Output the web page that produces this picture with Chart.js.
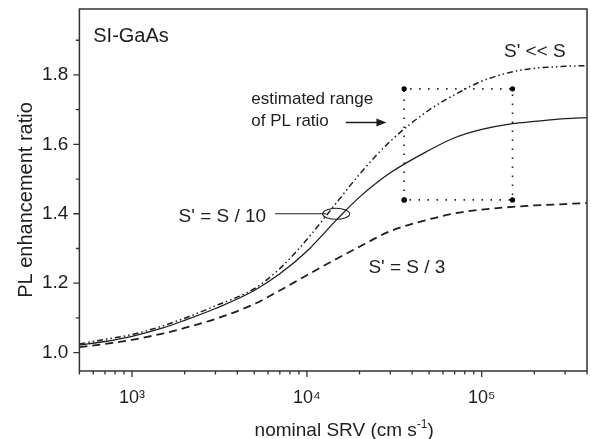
<!DOCTYPE html>
<html>
<head>
<meta charset="utf-8">
<script src="https://cdn.jsdelivr.net/npm/chart.js@4/dist/chart.umd.min.js"></script>
<style>
  html, body { margin: 0; padding: 0; background: #fff; }
</style>
</head>
<body>
<canvas id="chart" width="591" height="439"></canvas>
<script>
// nominal SRV (cm/s) sample points and PL enhancement ratio
const srv = [500, 700, 1000, 1500, 2000, 3000, 5000, 7000, 1e4, 1.5e4, 2e4, 3e4, 5e4, 7e4, 1e5, 1.5e5, 2e5, 3e5, 4e5];
const ratioMuchLess = [1.025, 1.038, 1.052, 1.077, 1.099, 1.135, 1.184, 1.242, 1.326, 1.436, 1.514, 1.609, 1.699, 1.743, 1.782, 1.809, 1.819, 1.825, 1.827];
const ratioTenth    = [1.022, 1.032, 1.047, 1.071, 1.093, 1.127, 1.179, 1.227, 1.292, 1.386, 1.448, 1.518, 1.583, 1.619, 1.643, 1.660, 1.666, 1.674, 1.677];
const ratioThird    = [1.016, 1.025, 1.037, 1.055, 1.071, 1.097, 1.140, 1.179, 1.223, 1.272, 1.305, 1.350, 1.384, 1.401, 1.412, 1.420, 1.424, 1.428, 1.431];

// estimated range box (SRV and ratio limits)
const rangeSrv = [3.6e4, 1.5e5];
const rangeRatio = [1.44, 1.76];

const yTicks = [1.0, 1.2, 1.4, 1.6, 1.8];
const yMinor = [1.1, 1.3, 1.5, 1.7, 1.9];
const xTicks = [1e3, 1e4, 1e5];
const xTickText = ['10³', '10⁴', '10⁵'];

// text labels, anchored in data space
const notes = [
  { text: 'SI-GaAs', x: 600, y: 1.91, align: 'left', size: 20 },
  { text: "S' << S", x: 1.34e5, y: 1.867, align: 'left', size: 19 },
  { text: 'estimated range', x: 4810, y: 1.729, align: 'left', size: 17 },
  { text: 'of PL ratio', x: 4810, y: 1.665, align: 'left', size: 17 },
  { text: "S' = S / 10", x: 5850, y: 1.392, align: 'right', size: 19 },
  { text: "S' = S / 3", x: 6.2e4, y: 1.244, align: 'right', size: 19 }
];
const arrowFrom = [1.67e4, 1.663], arrowTo = [2.85e4, 1.663];
const pointerFrom = [6580, 1.40], pointerTo = [1.29e4, 1.40], ringAt = [1.47e4, 1.40];

const FONT = '"Liberation Sans", Arial, sans-serif';
const INK = '#1e1e1e';

const pts = (ys) => srv.map((x, i) => ({ x: x, y: ys[i] }));
const box = [
  { x: rangeSrv[0], y: rangeRatio[0] },
  { x: rangeSrv[0], y: rangeRatio[1] },
  { x: rangeSrv[1], y: rangeRatio[1] },
  { x: rangeSrv[1], y: rangeRatio[0] },
  { x: rangeSrv[0], y: rangeRatio[0] }
];

const framePlugin = {
  id: 'frame',
  afterDatasetsDraw(chart) {
    const { ctx, chartArea: a, scales: { x, y } } = chart;
    ctx.save();
    ctx.strokeStyle = '#333';
    ctx.lineWidth = 1.5;
    ctx.strokeRect(a.left, a.top, a.right - a.left, a.bottom - a.top);

    // tick marks, pointing outward
    ctx.lineWidth = 1.3;
    ctx.beginPath();
    xTicks.forEach(v => { const px = x.getPixelForValue(v); ctx.moveTo(px, a.bottom); ctx.lineTo(px, a.bottom + 6); });
    [100, 1000, 1e4, 1e5].forEach(d => {
      for (let m = 2; m <= 9; m++) {
        const v = m * d;
        if (v < x.min || v > x.max) continue;
        const px = x.getPixelForValue(v);
        ctx.moveTo(px, a.bottom); ctx.lineTo(px, a.bottom + 3.5);
      }
    });
    yTicks.forEach(v => { const py = y.getPixelForValue(v); ctx.moveTo(a.left, py); ctx.lineTo(a.left - 6, py); });
    yMinor.forEach(v => { const py = y.getPixelForValue(v); ctx.moveTo(a.left, py); ctx.lineTo(a.left - 3.5, py); });
    ctx.stroke();

    // labels
    ctx.fillStyle = INK;
    ctx.textBaseline = 'middle';
    notes.forEach(n => {
      ctx.font = n.size + 'px ' + FONT;
      ctx.textAlign = n.align;
      ctx.fillText(n.text, x.getPixelForValue(n.x), y.getPixelForValue(n.y));
    });

    // axis titles (the original sits them a little off-centre)
    ctx.textBaseline = 'alphabetic';
    ctx.save();
    ctx.translate(32, (a.top + a.bottom) / 2 + 10);
    ctx.rotate(-Math.PI / 2);
    ctx.textAlign = 'center';
    ctx.font = '20px ' + FONT;
    ctx.fillText('PL enhancement ratio', 0, 0);
    ctx.restore();

    const big = '19px ' + FONT, small = '12px ' + FONT;
    ctx.textAlign = 'left';
    ctx.font = big; const wA = ctx.measureText('nominal SRV (cm s').width, wC = ctx.measureText(')').width;
    ctx.font = small; const wB = ctx.measureText('-1').width;
    let tx = (a.left + a.right) / 2 + 11 - (wA + wB + wC) / 2;
    const ty = a.bottom + 65;
    ctx.font = big; ctx.fillText('nominal SRV (cm s', tx, ty); tx += wA;
    ctx.font = small; ctx.fillText('-1', tx, ty - 8); tx += wB;
    ctx.font = big; ctx.fillText(')', tx, ty);

    // arrow to the range box
    ctx.strokeStyle = INK;
    ctx.lineWidth = 1.3;
    const ax1 = x.getPixelForValue(arrowFrom[0]), ay = y.getPixelForValue(arrowFrom[1]);
    const ax2 = x.getPixelForValue(arrowTo[0]);
    ctx.beginPath(); ctx.moveTo(ax1, ay); ctx.lineTo(ax2 - 8, ay); ctx.stroke();
    ctx.beginPath(); ctx.moveTo(ax2, ay); ctx.lineTo(ax2 - 10, ay - 4); ctx.lineTo(ax2 - 10, ay + 4); ctx.closePath(); ctx.fill();

    // pointer + ring for S/10 curve
    ctx.lineWidth = 1.1;
    ctx.beginPath();
    ctx.moveTo(x.getPixelForValue(pointerFrom[0]), y.getPixelForValue(pointerFrom[1]));
    ctx.lineTo(x.getPixelForValue(pointerTo[0]), y.getPixelForValue(pointerTo[1]));
    ctx.stroke();
    ctx.beginPath();
    ctx.ellipse(x.getPixelForValue(ringAt[0]), y.getPixelForValue(ringAt[1]), 13.5, 5.5, 0, 0, Math.PI * 2);
    ctx.stroke();
    ctx.restore();
  }
};

new Chart(document.getElementById('chart'), {
  type: 'line',
  data: {
    datasets: [
      { label: "S' << S", data: pts(ratioMuchLess), borderColor: INK, borderWidth: 1.5, borderDash: [6, 3, 1.5, 3, 1.5, 3], pointRadius: 0, cubicInterpolationMode: 'monotone' },
      { label: "S' = S / 10", data: pts(ratioTenth), borderColor: INK, borderWidth: 1.3, pointRadius: 0, cubicInterpolationMode: 'monotone' },
      { label: "S' = S / 3", data: pts(ratioThird), borderColor: INK, borderWidth: 1.8, borderDash: [8, 5], pointRadius: 0, cubicInterpolationMode: 'monotone' },
      { label: 'range', data: box, borderColor: INK, borderWidth: 1.6, borderDash: [1.5, 7.5], pointRadius: 2.6, pointBackgroundColor: '#000', pointBorderWidth: 0, tension: 0 }
    ]
  },
  options: {
    responsive: false,
    animation: false,
    layout: { padding: { top: 9, right: 3, left: 0, bottom: 0 } },
    plugins: { legend: { display: false }, tooltip: { enabled: false } },
    scales: {
      x: {
        type: 'logarithmic', min: 500, max: 4e5,
        grid: { display: false, drawTicks: false }, border: { display: false },
        afterBuildTicks: s => { s.ticks = xTicks.map(v => ({ value: v })); },
        afterFit: s => { s.height = 68; s.paddingLeft = 0; s.paddingRight = 0; },
        ticks: { color: INK, padding: 16, maxRotation: 0, font: { family: FONT, size: 18 },
          callback: (v) => xTickText[xTicks.indexOf(v)] },
        title: { display: false }
      },
      y: {
        min: 0.947, max: 1.99,
        grid: { display: false, drawTicks: false }, border: { display: false },
        afterBuildTicks: s => { s.ticks = yTicks.map(v => ({ value: v })); },
        afterFit: s => { s.width = 79.4; s.paddingTop = 0; s.paddingBottom = 0; },
        ticks: { color: INK, padding: 11, font: { family: FONT, size: 19 }, callback: v => v.toFixed(1) },
        title: { display: false }
      }
    }
  },
  plugins: [framePlugin]
});
</script>
</body>
</html>
